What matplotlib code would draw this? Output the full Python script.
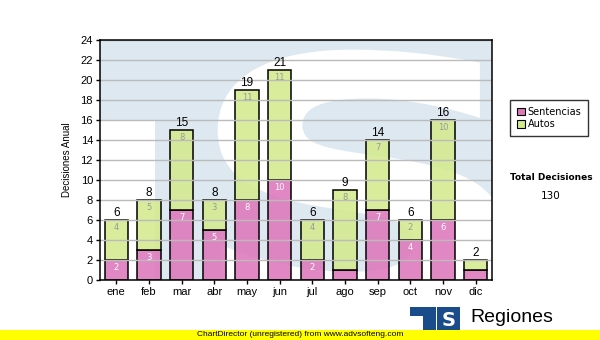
import matplotlib
matplotlib.use("Agg")
import matplotlib.pyplot as plt
import numpy as np
from matplotlib.colors import to_rgba
from matplotlib.patches import Rectangle, PathPatch, Polygon
from matplotlib.textpath import TextPath
from matplotlib.font_manager import FontProperties
from matplotlib.transforms import Affine2D

# data
meses = ['ene', 'feb', 'mar', 'abr', 'may', 'jun', 'jul', 'ago', 'sep', 'oct', 'nov', 'dic']
sentencias = [2, 3, 7, 5, 8, 10, 2, 1, 7, 4, 6, 1]
autos = [4, 5, 8, 3, 11, 11, 4, 8, 7, 2, 10, 1]

pink = '#dd77bb'
green = '#d3ea8e'
wm = '#dde8f1'
logo_blue = '#1a4c8c'

fig = plt.figure(figsize=(6, 3.4), dpi=100)
ax = fig.add_axes([100/600, 60/340, 392/600, 240/340])

x = np.arange(len(meses))
sen = np.array(sentencias)
aut = np.array(autos)
tot = sen + aut

ax.set_xlim(-0.5, 11.5)
ax.set_ylim(0, 24)

# watermark logo behind the bars (light blue T + S)
ax.add_patch(Polygon([(0, 1), (1, 1), (1, 0), (0.14, 0), (0.14, 0.667), (0, 0.667)],
                     closed=True, transform=ax.transAxes, facecolor=wm,
                     edgecolor='none', zorder=0))
fp = FontProperties(family='DejaVu Sans', weight='bold')
tp = TextPath((0, 0), 'S', size=1, prop=fp)
ext = tp.get_extents()
sx = (1.03 - 0.30) / ext.width
sy = (0.96 + 0.17) / ext.height
tr = Affine2D().translate(-ext.x0, -ext.y0).scale(sx, sy).translate(0.30, -0.17)
ax.add_patch(PathPatch(tr.transform_path(tp), facecolor='white', edgecolor='none',
                       transform=ax.transAxes, zorder=0.5, clip_on=True))

ax.yaxis.grid(True, color='#bbbbbb', linewidth=1)
ax.set_axisbelow(False)
for gl in ax.get_ygridlines():
    gl.set_zorder(1)

w = 0.72
ax.bar(x, sen, w, color=to_rgba(pink, 0.88), edgecolor='black', linewidth=1.1, zorder=2)
ax.bar(x, aut, w, bottom=sen, color=to_rgba(green, 0.88), edgecolor='black',
       linewidth=1.1, zorder=2)

for i in range(len(meses)):
    if sen[i] > 1:
        ax.text(x[i], sen[i] - 0.35, str(sen[i]), ha='center', va='top',
                color='white', fontsize=6, zorder=3)
    if aut[i] > 1:
        ax.text(x[i], tot[i] - 0.35, str(aut[i]), ha='center', va='top',
                color='#999999', fontsize=6, zorder=3)
    ax.text(x[i], tot[i] + 0.1, str(tot[i]), ha='center', va='bottom',
            color='black', fontsize=8.5, family='Liberation Sans', zorder=3)

ax.set_xticks(x)
ax.set_xticklabels(meses, family='Liberation Sans', fontsize=8)
ax.set_yticks(range(0, 25, 2))
ax.set_yticklabels([str(v) for v in range(0, 25, 2)], family='Liberation Sans', fontsize=8)
ax.tick_params(axis='both', length=3, width=1, color='black', pad=2)
for s in ax.spines.values():
    s.set_linewidth(1.1)
    s.set_zorder(4)
ax.set_ylabel('Decisiones Anual', fontsize=7, family='Liberation Sans', labelpad=6)

handles = [Rectangle((0, 0), 1, 1, facecolor=pink, edgecolor='black', linewidth=0.8),
           Rectangle((0, 0), 1, 1, facecolor=green, edgecolor='black', linewidth=0.8)]
leg = fig.legend(handles, ['Sentencias', 'Autos'], loc='upper left',
                 bbox_to_anchor=(510/600, 1 - 100/340), fontsize=7,
                 frameon=True, fancybox=False, handlelength=0.8, handleheight=0.8,
                 handletextpad=0.3, borderpad=0.7, labelspacing=0.25, borderaxespad=0)
leg.get_frame().set_edgecolor('black')
leg.get_frame().set_linewidth(1)

fig.text(551/600, 1 - 178/340, 'Total Decisiones', ha='center', va='center',
         fontsize=6.5, fontweight='bold')
fig.text(551/600, 1 - 196/340, str(tot.sum()), ha='center', va='center', fontsize=7.5)

# logo at the bottom right
fig.patches.append(Polygon([(410/600, 1 - 307/340), (436/600, 1 - 307/340),
                            (436/600, 1 - 330/340), (423/600, 1 - 330/340),
                            (423/600, 1 - 316/340), (410/600, 1 - 316/340)], closed=True,
                           transform=fig.transFigure, facecolor=logo_blue, edgecolor='none'))
fig.patches.append(Rectangle((437/600, 1 - 330/340), 23/600, 23/340,
                             transform=fig.transFigure, facecolor=logo_blue, edgecolor='none'))
fig.text(448.5/600, 1 - 320/340, 'S', ha='center', va='center', color='white',
         fontsize=14, fontweight='bold')
fig.text(470/600, 1 - 317/340, 'Regiones', ha='left', va='center',
         fontsize=14, family='Liberation Sans')

# unregistered banner
fig.patches.append(Rectangle((0, 0), 1, 10/340, transform=fig.transFigure,
                             facecolor='#ffff00', edgecolor='none', zorder=5))
fig.text(0.5, 5/340, 'ChartDirector (unregistered) from www.advsofteng.com',
         ha='center', va='center', fontsize=6, family='Liberation Sans', zorder=6)

fig.savefig('out.png', dpi=100)
